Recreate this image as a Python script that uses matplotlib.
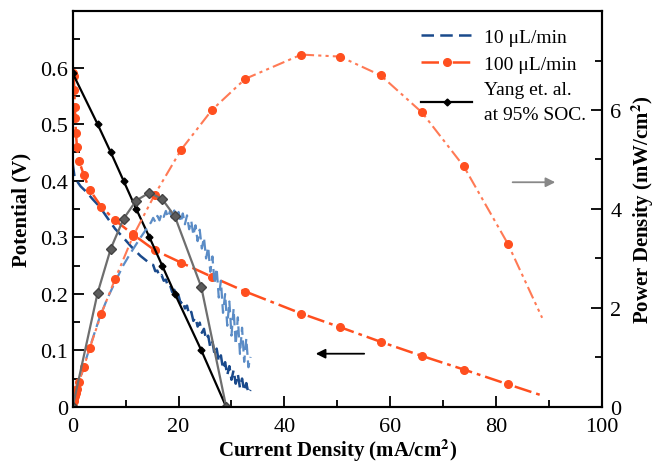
import matplotlib.pyplot as plt
from matplotlib.ticker import MultipleLocator
import numpy as np

plt.rcParams['font.family'] = ['Liberation Serif', 'DejaVu Serif']
plt.rcParams['mathtext.fontset'] = 'stix'

# 100 uL/min : polarization + power density
current_100 = [0, 0.2, 0.3, 0.4, 0.5, 0.6, 0.8, 1.2, 2.1, 3.2, 5.4, 8.0, 11.4, 15.5,
               20.5, 26.3, 32.6, 43.2, 50.5, 58.2, 66.0, 73.9, 82.2, 88.7]
potential_100 = [0.59, 0.585, 0.56, 0.53, 0.51, 0.485, 0.46, 0.435, 0.41, 0.384, 0.354,
                 0.33, 0.305, 0.277, 0.255, 0.23, 0.204, 0.165, 0.141, 0.115, 0.09,
                 0.066, 0.04, 0.02]
power_100 = [0, 0.12, 0.17, 0.21, 0.26, 0.29, 0.37, 0.5, 0.8, 1.18, 1.88, 2.58, 3.45,
             4.29, 5.2, 6.0, 6.63, 7.12, 7.08, 6.7, 5.95, 4.86, 3.3, 1.8]

# Yang et. al. at 95% SOC
current_yang = [0, 4.7, 7.2, 9.6, 12.0, 14.5, 16.9, 19.3, 24.3, 29.0]
potential_yang = [0.59, 0.50, 0.45, 0.40, 0.35, 0.30, 0.25, 0.20, 0.10, 0.0]
power_yang = [0, 2.3, 3.2, 3.8, 4.17, 4.33, 4.2, 3.85, 2.42, 0]

# 10 uL/min (noisy past ~15 mA/cm2)
current_10 = [0, 0.3, 0.75, 1.5, 2.6, 3.8, 5.1, 6.5, 8.0, 9.5, 11.0, 12.8,
              14.8, 15.2, 15.6, 16.0, 16.4, 16.8, 17.2, 17.6, 18.0, 18.4, 18.8, 19.2,
              19.6, 20.0, 20.4, 20.8, 21.2, 21.6, 22.0, 22.4, 22.8, 23.2, 23.6, 24.0,
              24.4, 24.8, 25.2, 25.6, 26.0, 26.4, 26.8, 27.2, 27.6, 28.0, 28.4, 28.8,
              29.2, 29.6, 30.0, 30.4, 30.8, 31.2, 31.6, 32.0, 32.4, 32.8, 33.2, 33.6]
potential_10 = [0.43, 0.41, 0.40, 0.39, 0.38, 0.367, 0.354, 0.335, 0.315, 0.30, 0.284, 0.267,
                0.252, 0.251, 0.240, 0.241, 0.230, 0.233, 0.223, 0.225, 0.213, 0.215, 0.203, 0.207,
                0.193, 0.197, 0.183, 0.188, 0.174, 0.179, 0.163, 0.168, 0.152, 0.158, 0.142, 0.149,
                0.131, 0.138, 0.119, 0.126, 0.105, 0.115, 0.093, 0.103, 0.080, 0.091, 0.067, 0.079,
                0.056, 0.072, 0.048, 0.065, 0.041, 0.058, 0.034, 0.050, 0.028, 0.042, 0.024, 0.030]
power_10 = [0, 0.12, 0.30, 0.59, 0.99, 1.39, 1.81, 2.18, 2.52, 2.85, 3.12, 3.42,
            3.73, 3.82, 3.74, 3.86, 3.77, 3.91, 3.84, 3.96, 3.83, 3.96, 3.82, 3.97,
            3.78, 3.94, 3.73, 3.91, 3.69, 3.87, 3.59, 3.76, 3.47, 3.67, 3.35, 3.58,
            3.20, 3.42, 3.00, 3.23, 2.73, 3.04, 2.49, 2.80, 2.21, 2.55, 1.90, 2.28,
            1.64, 2.13, 1.44, 1.98, 1.26, 1.81, 1.07, 1.60, 0.91, 1.38, 0.80, 1.01]

orange = '#ff4f1f'
orange_light = '#ff7a55'
blue_dark = '#1a4a8c'
blue_light = '#5b8cc6'

fig = plt.figure(figsize=(6.55, 4.64), dpi=100)
ax = fig.add_axes([0.111, 0.121, 0.808, 0.853])
ax2 = ax.twinx()

# polarization curves (left axis)
ax.plot(current_10, potential_10, color=blue_dark, lw=1.8, dashes=(5, 2.5),
        label='10 \u03bcL/min')
ax.plot(current_100, potential_100, color=orange, lw=1.8, dashes=(7, 2, 1.5, 2),
        marker='o', ms=5.5, markevery=list(range(len(current_100) - 1)),
        label='100 \u03bcL/min')
ax.plot(current_yang, potential_yang, color='black', lw=1.6, marker='D', ms=3.5,
        label='Yang et. al.\nat 95% SOC.')

# power density curves (right axis)
ax2.plot(current_10, power_10, color=blue_light, lw=1.6, dashes=(5, 2.5))
ax2.plot(current_100, power_100, color=orange_light, lw=1.5, dashes=(6, 2, 1.5, 2, 1.5, 2),
         marker='o', ms=5.5, mfc=orange, mec=orange,
         markevery=list(range(len(current_100) - 1)))
ax2.plot(current_yang, power_yang, color='#6e6e6e', lw=1.6, marker='D', ms=5.5,
         mfc='#5c5c5c', mec='#444444')

ax.set_xlim(0, 100)
ax.set_ylim(0, 0.7)
ax2.set_ylim(0, 8)

ax.set_yticks([0, 0.1, 0.2, 0.3, 0.4, 0.5, 0.6])
ax.set_yticklabels(['0', '0.1', '0.2', '0.3', '0.4', '0.5', '0.6'])
ax.yaxis.set_minor_locator(MultipleLocator(0.05))
ax.xaxis.set_major_locator(MultipleLocator(20))
ax.xaxis.set_minor_locator(MultipleLocator(10))
ax2.set_yticks([0, 2, 4, 6])
ax2.yaxis.set_minor_locator(MultipleLocator(1))

for a in (ax, ax2):
    a.tick_params(which='major', direction='in', length=8, width=1.3, labelsize=16)
    a.tick_params(which='minor', direction='in', length=5, width=1.3)
    for s in a.spines.values():
        s.set_linewidth(1.5)
ax.tick_params(axis='both', which='both', top=False, right=False)
ax.tick_params(axis='x', which='major', pad=7)
ax2.tick_params(axis='y', which='major', pad=6)

ax.set_xlabel('Current Density (mA/cm$^\\mathbf{2}$)', fontsize=15, fontweight='bold',
              labelpad=1)
ax.set_ylabel('Potential (V)', fontsize=15, fontweight='bold', labelpad=6)
ax2.set_ylabel('Power Density (mW/cm$^\\mathbf{2}$)', fontsize=15, fontweight='bold',
               labelpad=6)

# arrows pointing to each axis
ax.annotate('', xy=(45.4, 0.094), xytext=(55.6, 0.094),
            arrowprops=dict(arrowstyle='-|>', color='black', lw=1.3, mutation_scale=14))
ax2.annotate('', xy=(91.7, 4.54), xytext=(82.6, 4.54),
             arrowprops=dict(arrowstyle='-|>', color='#888888', lw=1.3, mutation_scale=14))

leg = ax.legend(loc='upper right', bbox_to_anchor=(0.995, 0.99), frameon=False, fontsize=14,
                handlelength=2.6, handletextpad=0.6, labelspacing=0.45, borderaxespad=0.3)
for t in leg.get_texts():
    t.set_linespacing(1.55)

fig.savefig('out.png', dpi=100)
